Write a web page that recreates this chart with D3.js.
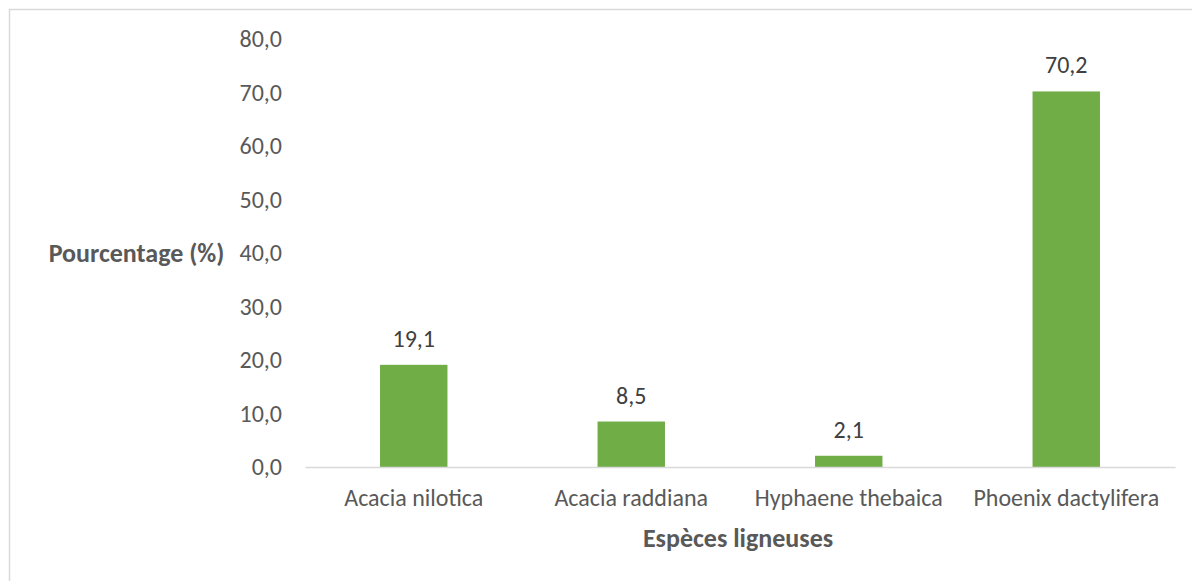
<!DOCTYPE html>
<html>
<head>
<meta charset="utf-8">
<script src="https://cdn.jsdelivr.net/npm/d3@7"></script>
<style>
  html, body { margin: 0; padding: 0; background: #fff; }
  svg { display: block; }
  text { font-family: Carlito, Calibri, "Open Sans", sans-serif; }
</style>
</head>
<body>
<svg id="chart" width="1192" height="581"></svg>
<script>
const categories = ["Acacia nilotica", "Acacia raddiana", "Hyphaene thebaica", "Phoenix dactylifera"];
const values = [19.1, 8.5, 2.1, 70.2];
const yTicks = [0, 10, 20, 30, 40, 50, 60, 70, 80];
const yTitle = "Pourcentage (%)";
const xTitle = "Espèces ligneuses";

const FONT = "Carlito, Calibri, 'Open Sans', sans-serif";
const svg = d3.select("#chart");
const fmt = v => v.toFixed(1).replace(".", ",");

// chart frame
svg.append("rect")
  .attr("x", 9.5).attr("y", 9.5)
  .attr("width", 1200).attr("height", 600)
  .attr("fill", "none").attr("stroke", "#d9d9d9").attr("stroke-width", 1.5);

const x = d3.scaleBand().domain(categories).range([305, 1175]).paddingInner(0.69).paddingOuter(0.345);
const y = d3.scaleLinear().domain([0, 80]).range([467, 39]);

// y axis labels
const yAxis = d3.axisLeft(y).tickValues(yTicks).tickFormat(fmt).tickSize(0).tickPadding(0);
const gy = svg.append("g").attr("transform", "translate(282,0)").call(yAxis);
gy.select(".domain").remove();
gy.selectAll("text")
  .attr("fill", "#595959")
  .style("font-size", "24px")
  .style("font-family", FONT);

// bars
svg.append("g").selectAll("rect")
  .data(values)
  .join("rect")
  .attr("x", (d, i) => x(categories[i]))
  .attr("y", d => y(d))
  .attr("width", x.bandwidth())
  .attr("height", d => y(0) - y(d))
  .attr("fill", "#70ad47");

// data labels
svg.append("g").selectAll("text")
  .data(values)
  .join("text")
  .attr("x", (d, i) => x(categories[i]) + x.bandwidth() / 2)
  .attr("y", d => y(d) - 18)
  .attr("text-anchor", "middle")
  .attr("fill", "#404040")
  .style("font-size", "24px")
  .style("font-family", FONT)
  .text(fmt);

// x axis
const xAxis = d3.axisBottom(x).tickSize(0).tickPadding(22);
const gx = svg.append("g").attr("transform", "translate(0,467)").call(xAxis);
gx.select(".domain").attr("stroke", "#d9d9d9").attr("stroke-width", 1.5);
gx.selectAll("text")
  .attr("fill", "#595959")
  .style("font-size", "24px")
  .style("font-family", FONT);

// axis titles
svg.append("text")
  .attr("x", 136.5).attr("y", 262)
  .attr("text-anchor", "middle")
  .attr("fill", "#595959")
  .style("font-size", "26px").style("font-weight", "bold")
  .style("font-family", FONT)
  .text(yTitle);

svg.append("text")
  .attr("x", 738).attr("y", 547)
  .attr("text-anchor", "middle")
  .attr("fill", "#595959")
  .style("font-size", "26px").style("font-weight", "bold")
  .style("font-family", FONT)
  .text(xTitle);
</script>
</body>
</html>
